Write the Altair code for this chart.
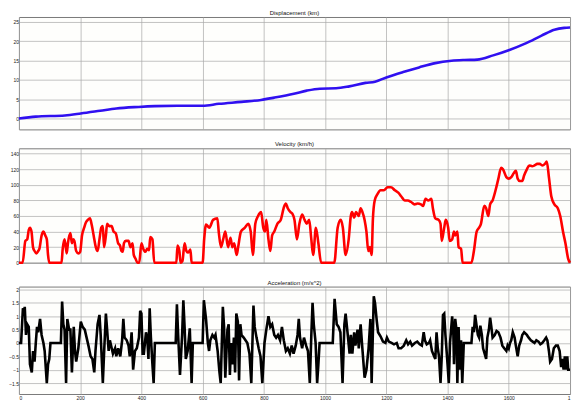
import altair as alt
import pandas as pd

# ---- data ----
disp_t = [0, 55, 150, 202, 265, 318, 391, 444, 518, 600, 653, 727, 791, 834, 898, 940,
          983, 1036, 1079, 1132, 1163, 1200, 1255, 1307, 1360, 1413, 1455, 1497, 1549,
          1602, 1655, 1707, 1749, 1781, 1800]
disp_v = [0, 0.5, 0.8, 1.3, 2.0, 2.6, 3.0, 3.2, 3.3, 3.3, 3.8, 4.3, 4.8, 5.4, 6.4, 7.2,
          7.7, 7.8, 8.3, 9.2, 9.5, 10.6, 12.0, 13.2, 14.3, 14.9, 15.1, 15.2, 16.3,
          17.7, 19.4, 21.4, 22.9, 23.4, 23.5]

vel_t = [0, 12, 21, 27, 32, 36, 41, 46, 51, 57, 63, 67, 74, 80, 86, 91, 95, 99, 139, 143,
         149, 156, 160, 168, 173, 177, 181, 187, 194, 200, 206, 213, 219, 225, 232, 238,
         244, 251, 257, 263, 269, 274, 278, 284, 288, 295, 303, 309, 316, 324, 330, 335,
         339, 343, 349, 358, 364, 371, 375, 381, 387, 393, 400, 406, 413, 419, 425, 429,
         436, 442, 514, 518, 524, 528, 534, 541, 547, 553, 560, 564, 600, 605, 611, 622,
         634, 648, 653, 660, 667, 674, 683, 691, 697, 703, 711, 716, 725, 738, 749, 757,
         764, 772, 781, 791, 798, 804, 808, 815, 821, 827, 834, 844, 855, 866, 872, 878,
         887, 893, 900, 908, 916, 925, 933, 940, 948, 955, 961, 970, 978, 987, 1030, 1041,
         1051, 1058, 1067, 1077, 1084, 1088, 1095, 1101, 1110, 1116, 1122, 1129, 1135,
         1141, 1146, 1152, 1156, 1162, 1171, 1181, 1192, 1204, 1215, 1228, 1239, 1249,
         1260, 1270, 1281, 1292, 1302, 1313, 1320, 1328, 1337, 1347, 1352, 1360, 1371,
         1377, 1381, 1389, 1394, 1402, 1407, 1415, 1421, 1425, 1432, 1436, 1444, 1449,
         1478, 1486, 1495, 1503, 1509, 1520, 1526, 1533, 1539, 1547, 1558, 1566, 1575,
         1581, 1592, 1600, 1608, 1616, 1623, 1629, 1636, 1644, 1650, 1659, 1667, 1676,
         1684, 1693, 1701, 1709, 1718, 1724, 1731, 1739, 1749, 1760, 1768, 1777, 1785,
         1794, 1800]
vel_v = [0, 0, 28, 30, 42, 45, 40, 20, 15, 12, 15, 18, 35, 40, 35, 30, 10, 0, 0, 18,
         30, 12, 25, 38, 25, 30, 28, 15, 12, 14, 35, 45, 52, 55, 57, 48,
         35, 20, 15, 30, 45, 47, 20, 35, 50, 47, 47, 40, 38, 25, 22, 15,
         14, 25, 28, 28, 20, 25, 10, 5, 0, 0, 25, 18, 14, 18, 16, 33,
         30, 0, 0, 22, 15, 0, 2, 25, 15, 13, 17, 0, 0, 30, 49, 45,
         55, 57, 38, 20, 30, 40, 20, 32, 20, 25, 10, 20, 40, 45, 50, 40,
         10, 50, 60, 65, 45, 40, 55, 30, 15, 35, 40, 50, 55, 72, 76, 70,
         65, 63, 55, 30, 50, 62, 55, 50, 55, 30, 10, 45, 25, 0, 0, 45,
         55, 45, 10, 30, 60, 65, 58, 65, 60, 70, 65, 55, 40,
         15, 20, 10, 55, 80, 88, 93, 93, 97, 97, 93, 90, 85,
         80, 80, 78, 75, 76, 75, 73, 82, 80, 82, 70, 57, 55,
         50, 28, 45, 55, 45, 28, 30, 40, 35, 40, 20, 18, 0,
         0, 15, 40, 45, 50, 73, 70, 60, 75, 80, 95, 108, 122,
         120, 110, 108, 110, 115, 118, 108, 105, 105, 112, 120, 125, 124,
         125, 127, 127, 125, 127, 130, 110, 85, 75, 70, 60, 40, 25,
         5, 0]

acc_t = [0, 7, 13, 17, 19, 23, 27, 32, 36, 42, 46, 51, 55, 59, 63, 69, 74, 80, 84, 91,
         95, 99, 103, 137, 141, 145, 149, 154, 158, 164, 168, 173, 179, 183, 187, 194,
         202, 208, 215, 221, 227, 234, 240, 246, 250, 257, 263, 267, 274, 278, 284, 288,
         293, 297, 303, 307, 314, 318, 324, 331, 337, 341, 345, 352, 358, 362, 368, 373,
         379, 385, 392, 396, 400, 404, 408, 415, 419, 423, 427, 431, 436, 440, 444, 512,
         516, 520, 526, 533, 537, 541, 545, 551, 558, 564, 568, 600, 604, 611, 617, 621,
         625, 632, 638, 642, 649, 655, 659, 666, 670, 674, 681, 685, 689, 693, 698, 702,
         706, 710, 715, 719, 723, 727, 734, 740, 746, 753, 759, 766, 770, 776, 783, 789,
         795, 802, 808, 815, 821, 827, 834, 840, 846, 853, 859, 865, 872, 878, 885, 891,
         897, 904, 910, 914, 918, 925, 931, 938, 944, 950, 955, 959, 963, 969, 974, 978,
         982, 1025, 1031, 1038, 1044, 1050, 1057, 1063, 1067, 1074, 1080, 1084, 1089,
         1095, 1099, 1106, 1110, 1116, 1121, 1129, 1135, 1142, 1148, 1152, 1159, 1163,
         1169, 1173, 1181, 1189, 1197, 1202, 1208, 1217, 1225, 1234, 1240, 1248, 1257,
         1265, 1271, 1278, 1284, 1293, 1301, 1309, 1316, 1322, 1326, 1332, 1339, 1343,
         1349, 1356, 1360, 1364, 1368, 1372, 1377, 1381, 1385, 1389, 1393, 1400, 1404,
         1408, 1415, 1419, 1421, 1425, 1429, 1432, 1436, 1440, 1444, 1448, 1453, 1478,
         1482, 1486, 1490, 1494, 1499, 1503, 1507, 1512, 1516, 1526, 1530, 1535, 1539,
         1543, 1547, 1554, 1560, 1566, 1573, 1579, 1585, 1592, 1596, 1600, 1604, 1608,
         1613, 1619, 1623, 1629, 1634, 1640, 1644, 1650, 1659, 1665, 1672, 1678, 1684,
         1690, 1697, 1703, 1709, 1716, 1722, 1726, 1731, 1735, 1741, 1747, 1754, 1760,
         1766, 1771, 1775, 1779, 1783, 1787, 1791, 1794, 1800]
acc_v = [0, 0, 1.3, 1.2, 1.35, 0.3, 0.7, 0.6, -0.8, -1.1, -0.3, -0.7, 0, 0.6, 0.4, 0.9, 0.3, 0, -0.3, -1.5,
         -0.8, -0.6, 0, 0, 1.55, 0.7, 0.5, -1.5, 0.9, 0.5, 0.5, -1.1, 0.6, -0.3, -0.7, -0.2,
         0.8, 0.6, 0.5, 0.2, -0.1, -0.5, -0.6, -1.1, -0.3, 0.7, 1.05, 0.3, -1.5, -0.4, 1.1, 0.5,
         -0.3, 0.1, -0.2, -0.4, -0.2, -0.5, -0.2, -0.5, 0.1, 0.9, 0.2, 0.1, -0.1, -0.5, 0.4, -1.0,
         -0.3, -0.2, 0.2, 1.2, 1.1, -0.4, -0.4, 0.4, 0.2, -0.6, 1.3, 0.2, -0.8, -1.5, 0, 0,
         1.45, 0.3, -1.2, 0.3, 1.6, 0.6, -0.6, -0.3, 0.55, -1.5, 0, 0, 1.6, 0.9, 0, -0.3,
         0.1, 0.3, 0.2, 0.3, -0.3, -1.1, -1.5, 1.35, 0.6, -1.3, 0.5, 0.7, -1.2, 0, -0.8, 0.2,
         -1.1, 1.1, 0.8, -1.4, 0.7, 0.3, 0.2, 0.1, 0, -0.4, -1.5, 1.4, 0.6, 0.2, -0.2, -0.5,
         -1.5, 0, 0.5, 1.0, 0.6, 0.7, 0.3, 0.2, 0.3, 0.1, 0.6, 0.1, -0.3, -0.2, -0.4, -0.1,
         -0.4, -0.1, 0.3, 0.9, 0.2, -0.2, 0.2, -0.1, -0.3, -1.5, 0.3, 1.5, 0.7, 0, -1.5, -0.8,
         0, 0, 1.65, 0.7, 0.6, 0.4, -1.5, 0.7, 1.1, 0.3, -0.4, 0.3, -0.4,
         0.4, -0.1, 0.5, -0.2, 0.7, -0.1, -1.3, -1.0, -0.2, 0.9, -1.5, 1.75, 1.5,
         0.8, 0.4, 0.25, 0.05, 0, 0.2, 0.05, 0, -0.05, 0, -0.2, -0.2, -0.1,
         0.1, -0.05, 0.05, -0.1, 0, 0.05, -0.05, -0.1, 0.4, 0.1, -0.05, 0, 0.1,
         -0.3, -0.5, -0.6, 0.4, -0.2, -0.5, -1.5, -0.5, 1.05, 1.1, 0.3, -0.8, -1.5,
         0, 1.0, 0.3, -0.8, 0.9, 0.5, -1.5, 0.6, -1.0, 0.1, -1.5, 0, 0,
         0.6, 0.4, 1.05, 0.7, 0.3, 0.2, 0.65, 0.3, -0.2, -0.6, 0.2, 0.5, 0.95,
         0.6, 0.2, 0.3, 0.45, 0.4, 0.2, -0.1, -0.2, -0.3, -0.1, -0.2, 0, 0.1,
         0.4, 0.2, -0.1, -0.5, -0.1, 0.1, 0.3, 0.4, 0.3, 0.2, 0.1, 0.05, 0,
         0.1, 0.05, -0.05, 0, 0.1, 0.2, 0.1, -0.3, -0.7, -0.6, -0.2, -0.1, -0.1,
         -0.3, -0.9, -0.6, -1.0, -0.5, -1.0, -0.5, -1.0, -1.0]

x_ticks = [0, 200, 400, 600, 800, 1000, 1200, 1400, 1600, 1800]
disp_ticks = [0, 5, 10, 15, 20, 25]
vel_ticks = [0, 20, 40, 60, 80, 100, 120, 140]
acc_ticks = [-1.5, -1, -0.5, 0, 0.5, 1, 1.5, 2]

titles = ["Displacement (km)", "Velocity (km/h)", "Acceleration (m/s^2)"]

W = 554
FONT = "Liberation Sans"


def title(txt):
    return alt.Title(txt, fontSize=6, offset=1, fontWeight="normal", font=FONT, color="#111")


def panel(t, v, color, ydom, yticks, yfmt, ttl, h, bottom, interp):
    df = pd.DataFrame({"t": t, "v": v})
    xaxis = alt.Axis(values=x_ticks, labels=bottom, ticks=False, domain=False,
                     title=None, grid=True, labelFontSize=5, labelPadding=2,
                     labelFont=FONT, labelColor="#222", format="d",
                     labelExpr="datum.value == 1800 ? '1' : datum.label")
    yaxis = alt.Axis(values=yticks, ticks=False, domain=False, title=None, grid=True,
                     labelFontSize=5, labelPadding=0.5, labelFont=FONT, labelColor="#222",
                     format=yfmt)
    return alt.Chart(df).mark_line(color=color, strokeWidth=2.6, interpolate=interp).encode(
        x=alt.X("t:Q", scale=alt.Scale(domain=[0, 1800], nice=False, zero=False), axis=xaxis),
        y=alt.Y("v:Q", scale=alt.Scale(domain=ydom, nice=False, zero=False), axis=yaxis),
    ).properties(width=W, height=h, title=title(ttl))


p1 = panel(disp_t, disp_v, "#3010f0", [-2.8, 26.2], disp_ticks, "d", titles[0], 113, False, "monotone")
p2 = panel(vel_t, vel_v, "#ff0000", [0, 147], vel_ticks, "d", titles[1], 115, False, "monotone")
p3 = panel(acc_t, acc_v, "#000000", [-1.91, 2.11], acc_ticks, ".1~f", titles[2], 108, True, "linear")

chart = alt.vconcat(p1, p2, p3, spacing=10).properties(
    padding={"left": 0, "top": 0, "right": 0, "bottom": 0}
).configure_view(
    stroke="#7a7a7a", strokeWidth=1, fill="#fefefc"
).configure_axis(
    gridColor="#a8a8a8", gridWidth=0.7, gridOpacity=1
)

chart.save("out.html", embed_options={"renderer": "svg", "actions": False})
